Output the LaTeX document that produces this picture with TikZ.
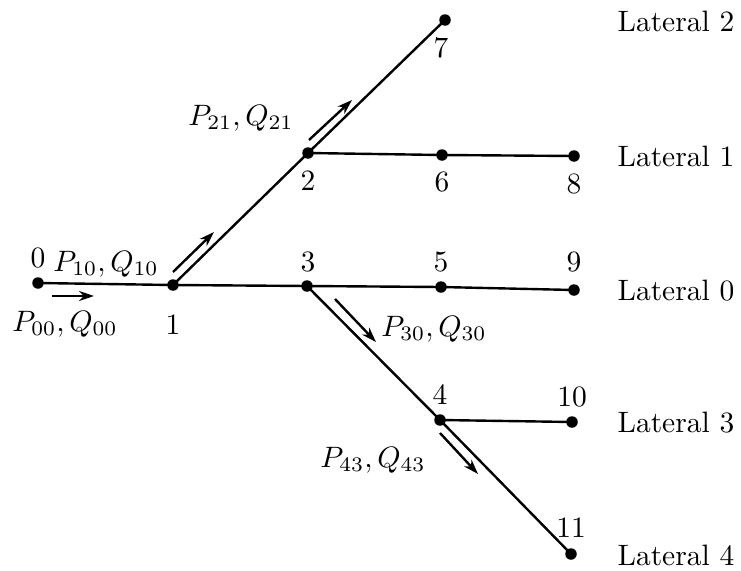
\documentclass[tikz,border=0pt]{standalone}
\usetikzlibrary{arrows.meta}
\begin{document}
\begin{tikzpicture}[x=1pt,y=-1pt,
  dot/.style={circle,fill=black,inner sep=0pt,minimum size=11.5pt},
  line/.style={line width=2.4pt},
  flow/.style={line width=2.4pt,-{Stealth[length=15pt,width=10pt]}},
  lbl/.style={inner sep=0pt,scale=2.95}]
\useasboundingbox (0,0) rectangle (741,570);
% buses
\node[dot] (n0) at (38,283) {};
\node[dot] (n1) at (173,285) {};
\node[dot] (n2) at (308,153) {};
\node[dot] (n3) at (307,286) {};
\node[dot] (n4) at (440,420) {};
\node[dot] (n5) at (441,287) {};
\node[dot] (n6) at (442,155) {};
\node[dot] (n7) at (445,20) {};
\node[dot] (n8) at (574,156) {};
\node[dot] (n9) at (574,290) {};
\node[dot] (n10) at (572,422) {};
\node[dot] (n11) at (571,554) {};
% lines
\draw[line] (n0.center) -- (n1.center) -- (n3.center) -- (n5.center) -- (n9.center);
\draw[line] (n1.center) -- (n2.center) -- (n7.center);
\draw[line] (n2.center) -- (n6.center) -- (n8.center);
\draw[line] (n3.center) -- (n4.center) -- (n11.center);
\draw[line] (n4.center) -- (n10.center);
% bus numbers
\node[lbl] (t0) at (38,258) {0};
\node[lbl] (t1) at (173,325) {1};
\node[lbl] (t2) at (308,181) {2};
\node[lbl] (t3) at (308,262) {3};
\node[lbl] (t4) at (440,395) {4};
\node[lbl] (t5) at (441,262) {5};
\node[lbl] (t6) at (442,182) {6};
\node[lbl] (t7) at (441,48) {7};
\node[lbl] (t8) at (574,184) {8};
\node[lbl] (t9) at (574,262) {9};
\node[lbl] (t10) at (572,397) {10};
\node[lbl] (t11) at (571,528) {11};
% flow labels
\node[lbl] (f00) at (65,324) {$P_{00},Q_{00}$};
\node[lbl] (f10) at (106,264) {$P_{10},Q_{10}$};
\node[lbl] (f21) at (241,118) {$P_{21},Q_{21}$};
\node[lbl] (f30) at (434,329) {$P_{30},Q_{30}$};
\node[lbl] (f43) at (373,460) {$P_{43},Q_{43}$};
% flow arrows
\coordinate (a00s) at (52,296); \coordinate (a00e) at (94,296);
\coordinate (a10s) at (173,272); \coordinate (a10e) at (214,232);
\coordinate (a21s) at (309,140); \coordinate (a21e) at (352,100);
\coordinate (a30s) at (335,299); \coordinate (a30e) at (376,342);
\coordinate (a43s) at (440,433); \coordinate (a43e) at (478,474);
\draw[flow] (a00s) -- (a00e);
\draw[flow] (a10s) -- (a10e);
\draw[flow] (a21s) -- (a21e);
\draw[flow] (a30s) -- (a30e);
\draw[flow] (a43s) -- (a43e);
% laterals
\node[lbl] (L2) at (676,21) {Lateral 2};
\node[lbl] (L1) at (676,156) {Lateral 1};
\node[lbl] (L0) at (676,291) {Lateral 0};
\node[lbl] (L3) at (676,423) {Lateral 3};
\node[lbl] (L4) at (676,555) {Lateral 4};
\end{tikzpicture}
\end{document}
